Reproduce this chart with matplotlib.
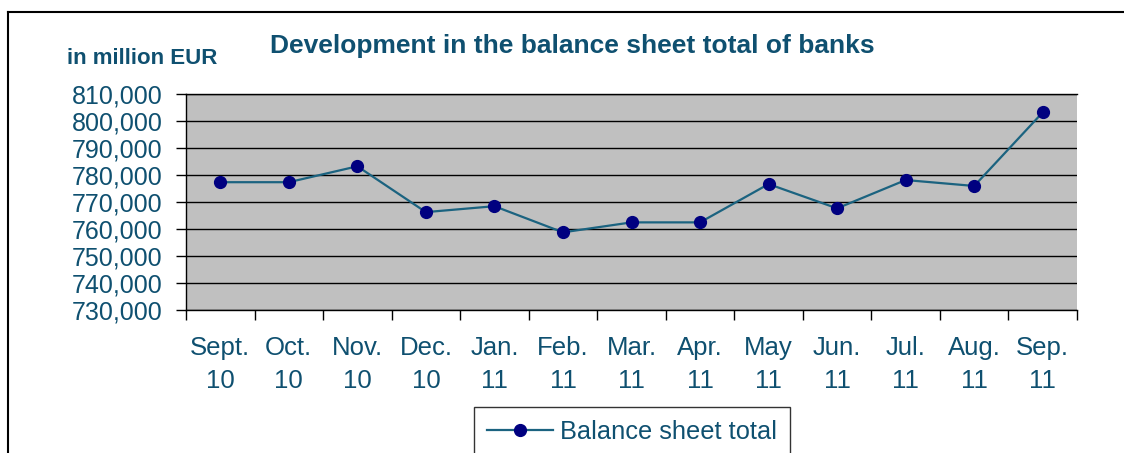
import matplotlib
matplotlib.use("Agg")
import matplotlib.pyplot as plt
from matplotlib.lines import Line2D
from matplotlib.ticker import FuncFormatter

months = ["Sept.\n10", "Oct.\n10", "Nov.\n10", "Dec.\n10", "Jan.\n11", "Feb.\n11",
          "Mar.\n11", "Apr.\n11", "May\n11", "Jun.\n11", "Jul.\n11", "Aug.\n11", "Sep.\n11"]
balance_total = [777400, 777400, 783300, 766300, 768500, 758800, 762500,
                 762500, 776700, 767700, 778200, 776000, 803300]
y_ticks = [730000, 740000, 750000, 760000, 770000, 780000, 790000, 800000, 810000]

text_color = "#0F5070"
line_color = "#1B6380"
marker_color = "#000080"

plt.rcParams['font.family'] = ['Liberation Sans', 'DejaVu Sans']

fig = plt.figure(figsize=(11.24, 4.53), dpi=100)
W, H = 1124, 453
ax = fig.add_axes([186 / W, 1 - 310 / H, (1077 - 186) / W, (310 - 94.3) / H])
ax.set_facecolor("#C0C0C0")

x = list(range(len(months)))
ax.plot(x, balance_total, color=line_color, lw=1.6, marker="o", ms=8.5,
        markerfacecolor=marker_color, markeredgecolor=marker_color,
        label="Balance sheet total", zorder=3)

ax.set_ylim(730000, 810000)
ax.set_yticks(y_ticks)
ax.yaxis.set_major_formatter(FuncFormatter(lambda v, p: f"{int(v):,}"))
ax.grid(axis="y", color="black", lw=1.0)
ax.set_axisbelow(True)

ax.set_xlim(-0.5, len(months) - 0.5)
ax.set_xticks(x)
ax.set_xticklabels(months, linespacing=1.45)
ax.set_xticks([i - 0.5 for i in range(len(months) + 1)], minor=True)
ax.tick_params(axis="x", which="major", length=0, pad=19, labelsize=18.5, labelcolor=text_color)
ax.tick_params(axis="x", which="minor", length=7, width=1, color="black", direction="out")
ax.tick_params(axis="y", length=7, width=1, pad=10, labelsize=18, labelcolor=text_color)

for s in ["right"]:
    ax.spines[s].set_visible(False)
for s in ["left", "bottom", "top"]:
    ax.spines[s].set_color("black")
    ax.spines[s].set_linewidth(1.0)

fig.text(572 / W, 1 - 46 / H, "Development in the balance sheet total of banks",
         ha="center", va="center", fontsize=19, fontweight="bold", color=text_color)
fig.text(67 / W, 1 - 58 / H, "in million EUR", ha="left", va="center",
         fontsize=16, fontweight="bold", color=text_color)

# outer frame (left and top edges)
fig.add_artist(Line2D([8 / W, 8 / W], [-0.1, 1 - 12 / H], transform=fig.transFigure,
                      color="black", lw=1.5))
fig.add_artist(Line2D([8 / W, 1.1], [1 - 12 / H, 1 - 12 / H], transform=fig.transFigure,
                      color="black", lw=1.5))

leg = fig.legend(loc="upper center", bbox_to_anchor=(632 / W, 1 - 407 / H),
                 frameon=True, fancybox=False, edgecolor="black", fontsize=18.3,
                 handlelength=2.6, borderpad=0.5, handletextpad=0.3, borderaxespad=0)
leg.get_frame().set_linewidth(1.0)
for t in leg.get_texts():
    t.set_color(text_color)

fig.savefig("out.png", dpi=100)
